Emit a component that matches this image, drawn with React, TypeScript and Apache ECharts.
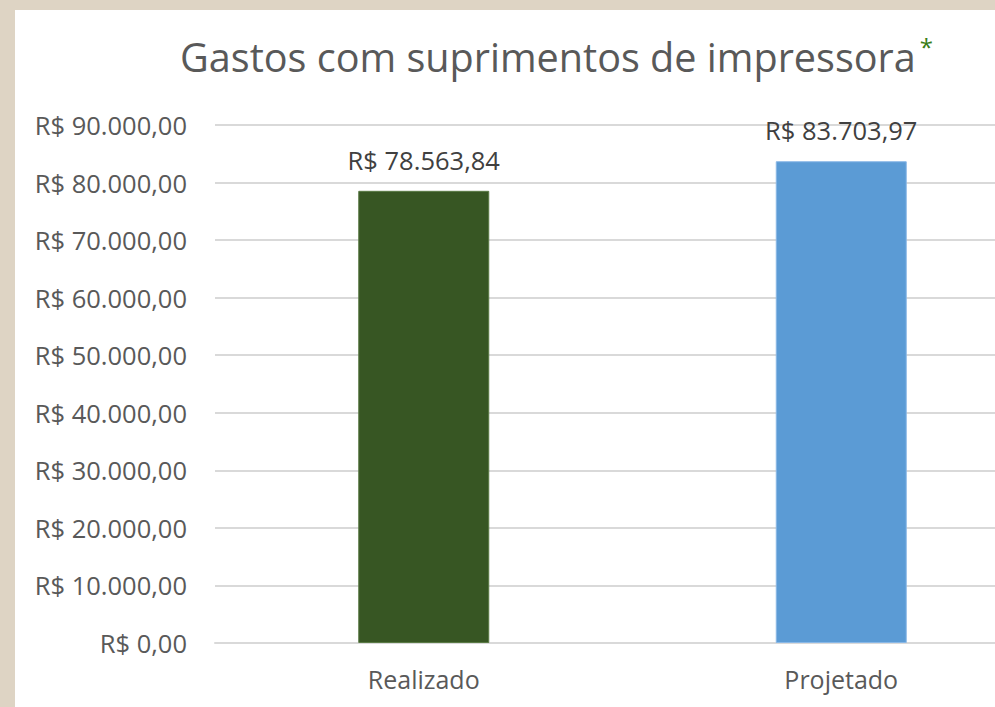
import React, { useEffect, useRef } from "react";
import * as echarts from "echarts";

const categories = ["Realizado", "Projetado"];
const values = [78563.84, 83703.97];
const barColors = ["#375623", "#5b9bd5"];
const titleText = "Gastos com suprimentos de impressora";
const yMax = 90000;
const yInterval = 10000;

const fmt = (v: number) => {
  const fixed = v.toFixed(2);
  const [intPart, dec] = fixed.split(".");
  const withDots = intPart.replace(/\B(?=(\d{3})+(?!\d))/g, ".");
  return "R$ " + withDots + "," + dec;
};

export default function App() {
  const ref = useRef<HTMLDivElement>(null);
  useEffect(() => {
    if (!ref.current) return;
    const chart = echarts.init(ref.current, undefined, { renderer: "svg" });
    const font = "'Open Sans', sans-serif";
    chart.setOption({
      animation: false,
      backgroundColor: "#ffffff",
      title: {
        text: titleText + "{a|*}",
        left: 160,
        top: 19,
        textStyle: {
          fontFamily: font,
          fontSize: 39.6,
          fontWeight: "normal",
          color: "#595959",
          rich: {
            a: {
              fontFamily: font,
              fontSize: 24,
              color: "#3a7d16",
              verticalAlign: "top",
              padding: [0, 0, 22, 4],
            },
          },
        },
      },
      grid: { left: 200, top: 115, width: 835, height: 518, containLabel: false },
      xAxis: {
        type: "category",
        data: categories,
        axisLine: { show: true, lineStyle: { color: "#d9d9d9", width: 2 } },
        axisTick: { show: false },
        axisLabel: {
          fontFamily: font,
          fontSize: 25,
          color: "#595959",
          margin: 23,
        },
      },
      yAxis: {
        type: "value",
        min: 0,
        max: yMax,
        interval: yInterval,
        axisLine: { show: false },
        axisTick: { show: false },
        splitLine: { lineStyle: { color: "#d9d9d9", width: 2 } },
        axisLabel: {
          fontFamily: font,
          fontSize: 25.5,
          color: "#595959",
          margin: 28,
          formatter: (v: number) => fmt(v),
        },
      },
      series: [
        {
          type: "bar",
          barWidth: 131,
          data: values.map((v, i) => ({
            value: v,
            itemStyle: { color: barColors[i], borderColor: i === 0 ? "#5a7a45" : "#8ab8e6", borderWidth: 1 },
          })),
          label: {
            show: true,
            position: "top",
            distance: 18,
            fontFamily: font,
            fontSize: 25.5,
            color: "#404040",
            formatter: (p: any) => fmt(p.value),
          },
        },
      ],
    });
    return () => chart.dispose();
  }, []);
  return (
    <div
      style={{
        position: "fixed",
        left: 0,
        top: 0,
        width: 995,
        height: 707,
        overflow: "hidden",
        background: "#ded4c4",
      }}
    >
      <div
        ref={ref}
        style={{ position: "absolute", left: 15, top: 10, width: 1100, height: 697 }}
      />
    </div>
  );
}
